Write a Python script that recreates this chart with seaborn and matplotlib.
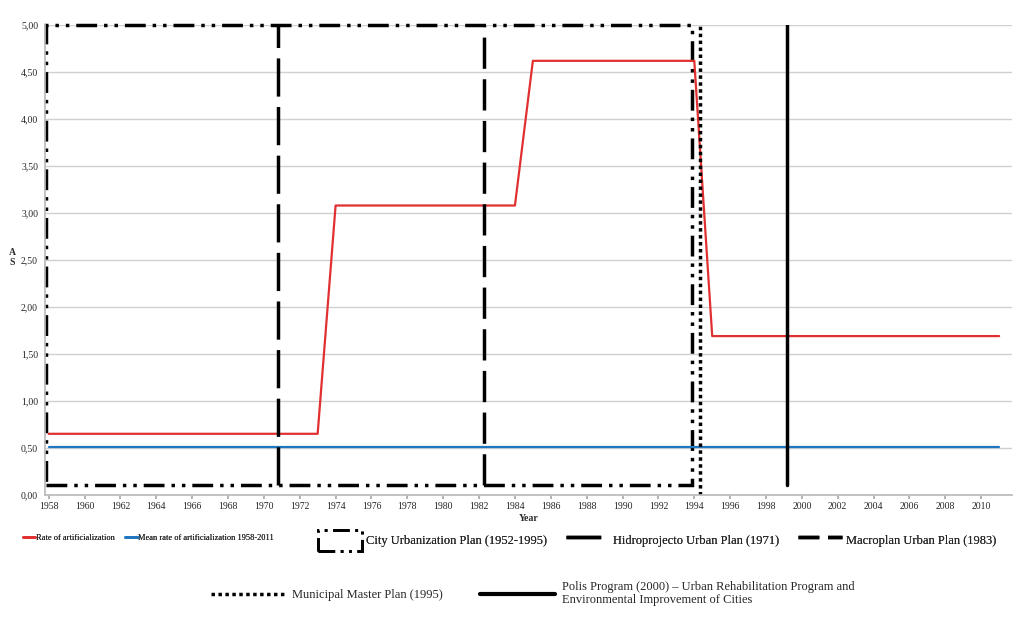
import matplotlib
matplotlib.use("Agg")
import matplotlib.pyplot as plt
import seaborn as sns
import numpy as np
import pandas as pd
from matplotlib.lines import Line2D
from matplotlib.patches import Rectangle

years = list(range(1958, 2012))
rate = [0.65]*16 + [3.08]*11 + [4.62]*10 + [1.69]*17
mean_rate = [0.51]*len(years)
plan_years = {"Hidroprojecto": 1970.8, "Macroplan": 1982.3, "Municipal": 1994.3, "Polis": 1999.15}
city_plan_end = 1993.9
ytick_vals = [0, 0.5, 1, 1.5, 2, 2.5, 3, 3.5, 4, 4.5, 5]

sns.set_theme(style="white")
plt.rcParams['font.family'] = ['Liberation Serif', 'DejaVu Serif']

fig = plt.figure(figsize=(10.24, 6.28), dpi=100)
ax = fig.add_axes([0.044, 0.212, 0.944, 0.748])
df = pd.DataFrame({"Year": years, "rate": rate, "mean": mean_rate})
ax.yaxis.grid(True, color="#d0d0d0", lw=1)
sns.lineplot(data=df, x="Year", y="rate", color="#e03030", lw=1.6, ax=ax)
sns.lineplot(data=df, x="Year", y="mean", color="#1f77c0", lw=1.6, ax=ax)

ax.add_patch(Rectangle((1957.85, 0.1), city_plan_end-1957.85, 4.9, fill=False,
                       ec="black", lw=2.5, ls=(0, (6, 2, 1, 2, 1, 2)), clip_on=False))
ax.axvline(plan_years["Hidroprojecto"], ymin=0.02, color="black", lw=2.5, ls=(0, (11, 3)))
ax.axvline(plan_years["Macroplan"], ymin=0.02, color="black", lw=2.5, ls=(0, (9, 3)))
ax.axvline(plan_years["Municipal"], color="black", lw=2.5, ls=(0, (1, 1)))
ax.axvline(plan_years["Polis"], ymin=0.02, color="black", lw=2.5)

ax.set_xlim(1957.8, 2011.7)
ax.set_ylim(0, 5)
ax.set_xticks(list(range(1958, 2011, 2)))
ax.set_xticklabels([str(y) for y in range(1958, 2011, 2)], fontsize=7)
ax.set_yticks(ytick_vals)
ax.set_yticklabels([f"{v:.2f}".replace(".", ",") for v in ytick_vals], fontsize=7)
ax.tick_params(axis="both", length=3, color="#aaaaaa", pad=2)
ax.tick_params(axis="x", bottom=True)
for s in ["top", "right"]:
    ax.spines[s].set_visible(False)
for s in ["left", "bottom"]:
    ax.spines[s].set_color("#bbbbbb")
ax.set_xlabel("Year", fontsize=7, fontweight="bold", labelpad=2)
ax.set_ylabel("")
fig.text(0.012, 0.59, "A\nS", fontsize=7, fontweight="bold", ha="center", va="center", linespacing=1.2)

h1 = [Line2D([], [], color="#e03030", lw=2), Line2D([], [], color="#1f77c0", lw=2)]
l1 = ["Rate of artificialization", "Mean rate of artificialization 1958-2011"]
leg1 = fig.legend(h1, l1, loc="center left", bbox_to_anchor=(0.015, 0.143), ncol=2, frameon=False,
                  fontsize=6, handlelength=1.5, handletextpad=0.1, columnspacing=1.2)
fig.add_artist(leg1)
h2 = [Rectangle((0, 0), 1, 1, fill=False, ec="black", lw=2, ls=(0, (6, 2, 1, 2, 1, 2))),
      Line2D([], [], color="black", lw=2.5, ls=(0, (10, 3))),
      Line2D([], [], color="black", lw=2.5, ls=(0, (6, 2.5)))]
l2 = ["City Urbanization Plan (1952-1995)", "Hidroprojecto Urban Plan (1971)", "Macroplan Urban Plan (1983)"]
leg2 = fig.legend(h2, l2, loc="center left", bbox_to_anchor=(0.3, 0.14), ncol=3, frameon=False,
                  fontsize=9, handlelength=3.5, handleheight=2.2, handletextpad=0.3, columnspacing=1.5)
fig.add_artist(leg2)
h3 = [Line2D([], [], color="black", lw=2.5, ls=(0, (1, 1))), Line2D([], [], color="black", lw=3)]
l3 = ["Municipal Master Plan (1995)", "Polis Program (2000) – Urban Rehabilitation Program and\nEnvironmental Improvement of Cities"]
fig.legend(h3, l3, loc="center left", bbox_to_anchor=(0.195, 0.055), ncol=2, frameon=False,
           fontsize=9, handlelength=6, handletextpad=0.5, columnspacing=3)

fig.savefig("out.png", dpi=100)
